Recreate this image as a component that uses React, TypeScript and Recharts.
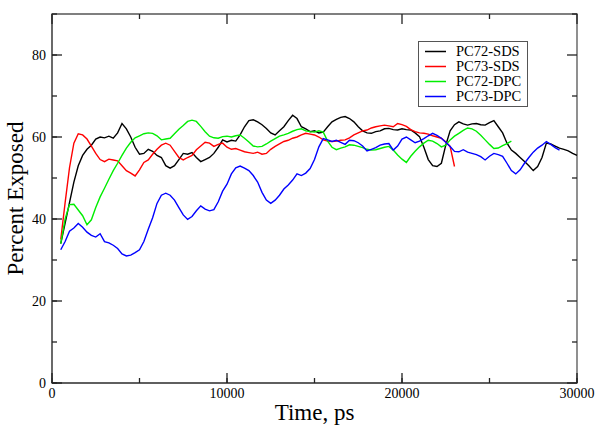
import React from "react";
import { LineChart, Line, XAxis, YAxis, Legend, Label, ReferenceArea } from "recharts";

const times = [
  500, 750, 1000, 1250, 1500, 1750, 2000, 2250,
  2500, 2750, 3000, 3250, 3500, 3750, 4000, 4250,
  4500, 4750, 5000, 5250, 5500, 5750, 6000, 6250,
  6500, 6750, 7000, 7250, 7500, 7750, 8000, 8250,
  8500, 8750, 9000, 9250, 9500, 9750, 10000, 10250,
  10500, 10750, 11000, 11250, 11500, 11750, 12000, 12250,
  12500, 12750, 13000, 13250, 13500, 13750, 14000, 14250,
  14500, 14750, 15000, 15250, 15500, 15750, 16000, 16250,
  16500, 16750, 17000, 17250, 17500, 17750, 18000, 18250,
  18500, 18750, 19000, 19250, 19500, 19750, 20000, 20250,
  20500, 20750, 21000, 21250, 21500, 21750, 22000, 22250,
  22500, 22750, 23000, 23250, 23500, 23750, 24000, 24250,
  24500, 24750, 25000, 25250, 25500, 25750, 26000, 26250,
  26500, 26750, 27000, 27250, 27500, 27750, 28000, 28250,
  28500, 28750, 29000, 29250, 29500, 29750, 30000,
];

const pc72Sds = [
  34, 39, 44, 49, 53, 55.5, 57, 58,
  59.5, 60, 59.8, 60.2, 59.7, 61, 63.3, 62,
  60, 57.5, 55.8, 56, 57, 56.5, 55.5, 55,
  53, 52.4, 53, 54.5, 56, 55.8, 56.2, 55,
  54, 54.5, 55, 56, 57.5, 59.3, 58.8, 59.2,
  59, 60.5, 62.5, 64, 64.2, 63.7, 63, 62.1,
  61, 60.5, 61.5, 62.5, 64, 65.3, 64.5, 62.5,
  62, 61.3, 61.5, 61, 61.2, 62.5, 63.7, 64.3,
  64.8, 65, 64.5, 63.7, 62.5, 61.5, 61, 60.9,
  61.3, 61.5, 62, 62.1, 61.8, 61.7, 62, 61.8,
  61.7, 61, 60.1, 57.5, 54.5, 53, 52.8, 53.6,
  58, 61.5, 63, 63.7, 63.2, 62.9, 63.2, 63.3,
  63, 62.9, 63.5, 64, 62.5, 61, 58.5, 56.8,
  56, 55, 54, 53, 51.8, 52.8, 55, 58.5,
  58.3, 57.8, 57.3, 57, 56.6, 56, 55.5,
];

const pc73Sds = [
  35, 44, 52.5, 58.5, 60.8, 60.5, 59.5, 57.8,
  56, 54.5, 54, 54.6, 54.4, 54.2, 53, 51.8,
  51.2, 50.5, 52, 53.8, 54.4, 55.8, 57, 58,
  58.5, 58, 56.5, 55, 54.4, 55, 55.5, 56.9,
  57.8, 58.7, 58.5, 57.7, 58.2, 58.5, 57.5, 57,
  57.2, 56.8, 56.4, 56.2, 56, 56.3, 55.8, 56,
  57, 57.7, 58.3, 58.9, 59.2, 59.7, 60, 60.5,
  60.9, 60.7, 60.5, 60, 59.3, 59, 58.9, 59,
  59.2, 59.3, 59.8, 60.5, 61, 61.5, 61.7, 62.2,
  62.5, 62.7, 62.9, 62.7, 62.5, 63.3, 63, 62.6,
  61.8, 61.3, 61, 60.9, 60.7, 60.3, 60, 59.7,
  58.8, 57.7, 52.8,
];

const pc72Dpc = [
  34, 40, 43.5, 43.6, 42.2, 40.8, 38.6, 39.8,
  42.8, 45.4, 47.5, 49.7, 51.8, 53.6, 55.5, 57.3,
  58.7, 59.8, 60.3, 60.8, 61, 60.9, 60.3, 59.3,
  59.5, 59.7, 60.8, 61.9, 62.8, 63.8, 64.1, 63.8,
  62.6, 61.3, 60.2, 59.8, 59.7, 60.1, 60.2, 60,
  60.3, 60.5, 59.7, 58.8, 57.8, 57.6, 57.7, 58.3,
  59, 59.6, 60.2, 60.5, 60.9, 61.4, 61.8, 62,
  61.5, 61.3, 61.2, 61.5, 61.2, 59, 57.5, 56.9,
  57.3, 57.6, 58.1, 58, 57.7, 57.4, 57, 56.8,
  56.9, 57.2, 57.5, 57.7, 56.8, 55.6, 54.6, 53.8,
  55.3, 56.5, 57.6, 58.5, 59.2, 59, 58.4, 57.6,
  58, 59.3, 60.2, 60.9, 61.6, 62.2, 62, 61.4,
  60.4, 59.3, 58.2, 57.2, 57.3, 57.9, 58.4, 59,
];

const pc73Dpc = [
  32.5, 34.5, 37, 37.8, 38.9, 38, 36.8, 36,
  35.6, 36.4, 34.5, 34.2, 33.6, 32.8, 31.5, 31,
  31.2, 31.8, 32.5, 34.5, 37.5, 40.3, 43.8, 45.8,
  46.3, 45.8, 44.6, 42.8, 41, 39.9, 40.6, 42,
  43.2, 42.4, 42, 42.3, 44.2, 46.8, 48.5, 51,
  52.5, 52.9, 52.4, 51.8, 50.6, 49, 46.5, 44.6,
  43.8, 44.6, 45.8, 47.3, 48.3, 49.5, 51, 50.6,
  51.2, 52.3, 54.5, 57.6, 59.6, 59.3, 58.9, 59.2,
  58.7, 58.2, 59.2, 59.1, 58.6, 57.8, 56.6, 57,
  57.4, 58, 58.3, 58.4, 56.8, 57.8, 59.5, 60,
  59.3, 58.6, 59, 59.6, 60.3, 60.9, 60.4, 59.7,
  58.7, 57.7, 56.5, 56.4, 56.9, 56.3, 56, 55.7,
  55.2, 54.4, 55.3, 56, 55.7, 55.3, 53.6, 51.8,
  51, 52, 53.6, 55, 56.3, 57.3, 58, 58.9,
  58.2, 57.4, 56.8,
];

const seriesNames = ["PC72-SDS", "PC73-SDS", "PC72-DPC", "PC73-DPC"];
const xTicks = [0, 5000, 10000, 15000, 20000, 25000, 30000];
const yTicks = [0, 10, 20, 30, 40, 50, 60, 70, 80, 90];

const FONT = "'Liberation Serif', 'Times New Roman', serif";
const FRAME = "#555";
const TICK = "#222";

const data = times.map((t, i) => ({
  t,
  pc72Sds: pc72Sds[i] ?? null,
  pc73Sds: pc73Sds[i] ?? null,
  pc72Dpc: pc72Dpc[i] ?? null,
  pc73Dpc: pc73Dpc[i] ?? null,
}));

// plot box size, used to mirror the inward ticks onto the top and right sides
const PLOT_H = 369;
const PLOT_W = 525;

// the axis draws every tick 5px inward; majors get lengthened to 10px here,
// and the far side of the box gets the same marks (grace style)
function XTick(props: any) {
  const { x, y, payload } = props;
  const major = payload.value % 10000 === 0;
  const len = major ? 10 : 5;
  return (
    <g>
      {major && <line x1={x} x2={x} y1={y} y2={y - len} stroke={TICK} strokeWidth={1.3} />}
      <line x1={x} x2={x} y1={y - PLOT_H} y2={y - PLOT_H + len} stroke={TICK} strokeWidth={1.3} />
      {major && (
        <text x={x} y={y + 15} textAnchor="middle" fontSize={14} fontFamily={FONT} fill="#000">
          {payload.value}
        </text>
      )}
    </g>
  );
}

function YTick(props: any) {
  const { x, y, payload } = props;
  const major = payload.value % 20 === 0;
  const len = major ? 10 : 5;
  return (
    <g>
      {major && <line x1={x} x2={x + len} y1={y} y2={y} stroke={TICK} strokeWidth={1.3} />}
      <line x1={x + PLOT_W} x2={x + PLOT_W - len} y1={y} y2={y} stroke={TICK} strokeWidth={1.3} />
      {major && (
        <text x={x - 6} y={y + 4.5} textAnchor="end" fontSize={14} fontFamily={FONT} fill="#000">
          {payload.value}
        </text>
      )}
    </g>
  );
}

function XTitle(props: any) {
  const vb = props.viewBox;
  return (
    <text x={vb.x + vb.width / 2} y={vb.y + 37} textAnchor="middle" fontSize={23} fontFamily={FONT} fill="#000">
      Time, ps
    </text>
  );
}

function YTitle(props: any) {
  const vb = props.viewBox;
  const cy = vb.y + vb.height / 2;
  return (
    <text transform={`translate(23, ${cy}) rotate(-90)`} textAnchor="middle" fontSize={23} fontFamily={FONT} fill="#000">
      Percent Exposed
    </text>
  );
}

function LegendBox({ payload }: any) {
  const items = [...(payload || [])].sort(
    (a: any, b: any) => seriesNames.indexOf(a.value) - seriesNames.indexOf(b.value)
  );
  return (
    <div
      style={{
        border: `1.5px solid ${FRAME}`,
        background: "#fff",
        padding: "2px 0",
        width: 110,
        boxSizing: "border-box",
        fontFamily: FONT,
        fontSize: 14.5,
      }}
    >
      {items.map((p: any) => (
        <div key={p.value} style={{ display: "flex", alignItems: "center", height: 15 }}>
          <svg width={21} height={15} style={{ marginLeft: 5.5, marginRight: 10.5, flex: "none" }}>
            <line x1={0} x2={21} y1={7.5} y2={7.5} stroke={p.color} strokeWidth={1.5} />
          </svg>
          <span style={{ lineHeight: "15px", color: "#000", whiteSpace: "nowrap" }}>{p.value}</span>
        </div>
      ))}
    </div>
  );
}

export default function App() {
  return (
    <div style={{ position: "absolute", left: 0, top: 0, width: 600, height: 428, background: "#fff" }}>
      <LineChart width={600} height={428} data={data} margin={{ top: 14, right: 23, bottom: 0, left: 0 }}>
        <XAxis
          xAxisId="b"
          type="number"
          dataKey="t"
          domain={[0, 30000]}
          ticks={xTicks}
          interval={0}
          height={45}
          tickLine={{ stroke: TICK, strokeWidth: 1.3 }}
          tickSize={-5}
          tickMargin={5}
          tick={<XTick />}
          axisLine={{ stroke: FRAME, strokeWidth: 1.3 }}
        >
          <Label content={<XTitle />} />
        </XAxis>
        <YAxis
          yAxisId="l"
          type="number"
          domain={[0, 90]}
          ticks={yTicks}
          interval={0}
          width={52}
          tickLine={{ stroke: TICK, strokeWidth: 1.3 }}
          tickSize={-5}
          tickMargin={5}
          tick={<YTick />}
          axisLine={{ stroke: FRAME, strokeWidth: 1.3 }}
        >
          <Label content={<YTitle />} />
        </YAxis>
        <ReferenceArea
          xAxisId="b"
          yAxisId="l"
          x1={0}
          x2={30000}
          y1={0}
          y2={90}
          fill="none"
          fillOpacity={0}
          stroke={FRAME}
          strokeWidth={1.3}
        />
        <Legend
          layout="vertical"
          align="center"
          verticalAlign="middle"
          content={<LegendBox />}
          wrapperStyle={{ left: 418, top: 41, width: 110 }}
        />
        <Line xAxisId="b" yAxisId="l" name="PC72-SDS" dataKey="pc72Sds" stroke="#000000" strokeWidth={1.4} dot={false} isAnimationActive={false} />
        <Line xAxisId="b" yAxisId="l" name="PC73-SDS" dataKey="pc73Sds" stroke="#ff0000" strokeWidth={1.4} dot={false} isAnimationActive={false} />
        <Line xAxisId="b" yAxisId="l" name="PC72-DPC" dataKey="pc72Dpc" stroke="#00ee00" strokeWidth={1.4} dot={false} isAnimationActive={false} />
        <Line xAxisId="b" yAxisId="l" name="PC73-DPC" dataKey="pc73Dpc" stroke="#0000ff" strokeWidth={1.4} dot={false} isAnimationActive={false} />
      </LineChart>
    </div>
  );
}
